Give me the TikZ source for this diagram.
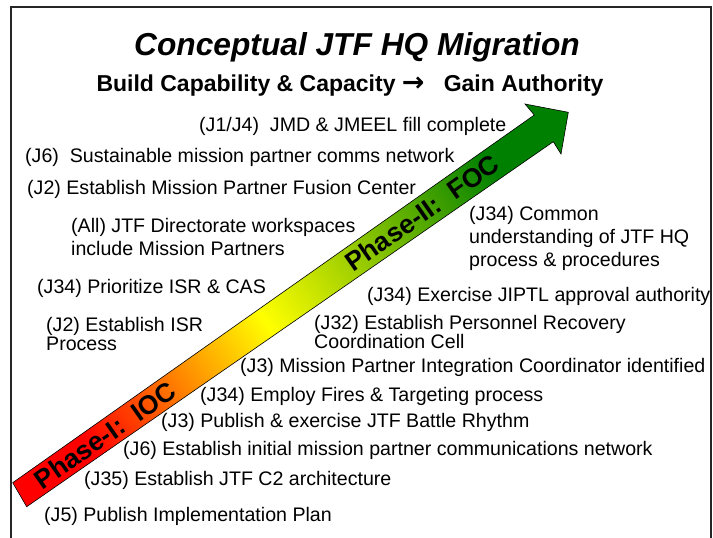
\documentclass[tikz,border=0pt]{standalone}
\usepackage{fontspec}
\setmainfont{Liberation Sans}
\newfontfamily\arrowfont{DejaVu Sans}
\usetikzlibrary{positioning}

\pgfdeclarehorizontalshading{phasegrad}{100bp}{color(0bp)=(red); color(25bp)=(red); color(47bp)=(yellow); color(75bp)=(green!50!black); color(100bp)=(green!50!black)}

\tikzset{
  item/.style={anchor=west, inner sep=0pt, align=left, font=\fontsize{19.6}{23}\selectfont},
  phase/.style={rotate=35, inner sep=0pt, font=\bfseries\fontsize{26.5}{26.5}\selectfont}
}

\begin{document}
\begin{tikzpicture}[x=1pt, y=-1pt]
  \useasboundingbox (0,0) rectangle (713,538);

  % Frame
  \draw[line width=1.8pt, black!85] (11,538) -- (11,7) -- (711,7) -- (711,538);

  % Titles
  \node[font=\bfseries\itshape\fontsize{31.7}{31.7}\selectfont] (title) at (357,47) {Conceptual JTF HQ Migration};
  \node[font=\bfseries\fontsize{23}{23}\selectfont] (subtitle) at (350,86) {Build Capability \& Capacity\ {\arrowfont\bfseries\fontsize{27}{27}\selectfont →}\ \ \ Gain Authority};

  % The phase arrow
  \shade[shading=phasegrad, shading angle=35, draw=black, line width=0.6pt]
    (12.7,482.7) -- (534.3,115) -- (525,104) -- (568.3,112.3) -- (561,154) -- (553.3,141.7) -- (26.7,506.7) -- cycle;
  \node[phase] (ioc) at (105,435) {Phase-I:\ \ IOC};
  \node[phase] (foc) at (422,213) {Phase-II:\ \ FOC};

  % Tasks
  \node[item] (j1j4) at (199,126) {(J1/J4)\ \ JMD \& JMEEL fill complete};
  \node[item] (j6net) at (25,157) {(J6)\ \ Sustainable mission partner comms network};
  \node[item] (j2fus) at (27,189) {(J2) Establish Mission Partner Fusion Center};
  \node[item] (allws) at (71,237) {(All) JTF Directorate workspaces\\include Mission Partners};
  \node[item] (j34com) at (469,238) {(J34) Common\\understanding of JTF HQ\\process \& procedures};
  \node[item] (j34isr) at (37,288) {(J34) Prioritize ISR \& CAS};
  \node[item] (j34jip) at (367,296) {(J34) Exercise JIPTL approval authority};
  \node[item, font=\fontsize{19.6}{19}\selectfont] (j2isr) at (46,333.5) {(J2) Establish ISR\\Process};
  \node[item, font=\fontsize{19.6}{18}\selectfont] (j32pr) at (314,332) {(J32) Establish Personnel Recovery\\Coordination Cell};
  \node[item] (j3mpi) at (240,367) {(J3) Mission Partner Integration Coordinator identified};
  \node[item] (j34fir) at (200,396) {(J34) Employ Fires \& Targeting process};
  \node[item] (j3br) at (161,422) {(J3) Publish \& exercise JTF Battle Rhythm};
  \node[item] (j6ini) at (123,450) {(J6) Establish initial mission partner communications network};
  \node[item] (j35c2) at (84,480) {(J35) Establish JTF C2 architecture};
  \node[item] (j5pub) at (44,516) {(J5) Publish Implementation Plan};
\end{tikzpicture}
\end{document}
